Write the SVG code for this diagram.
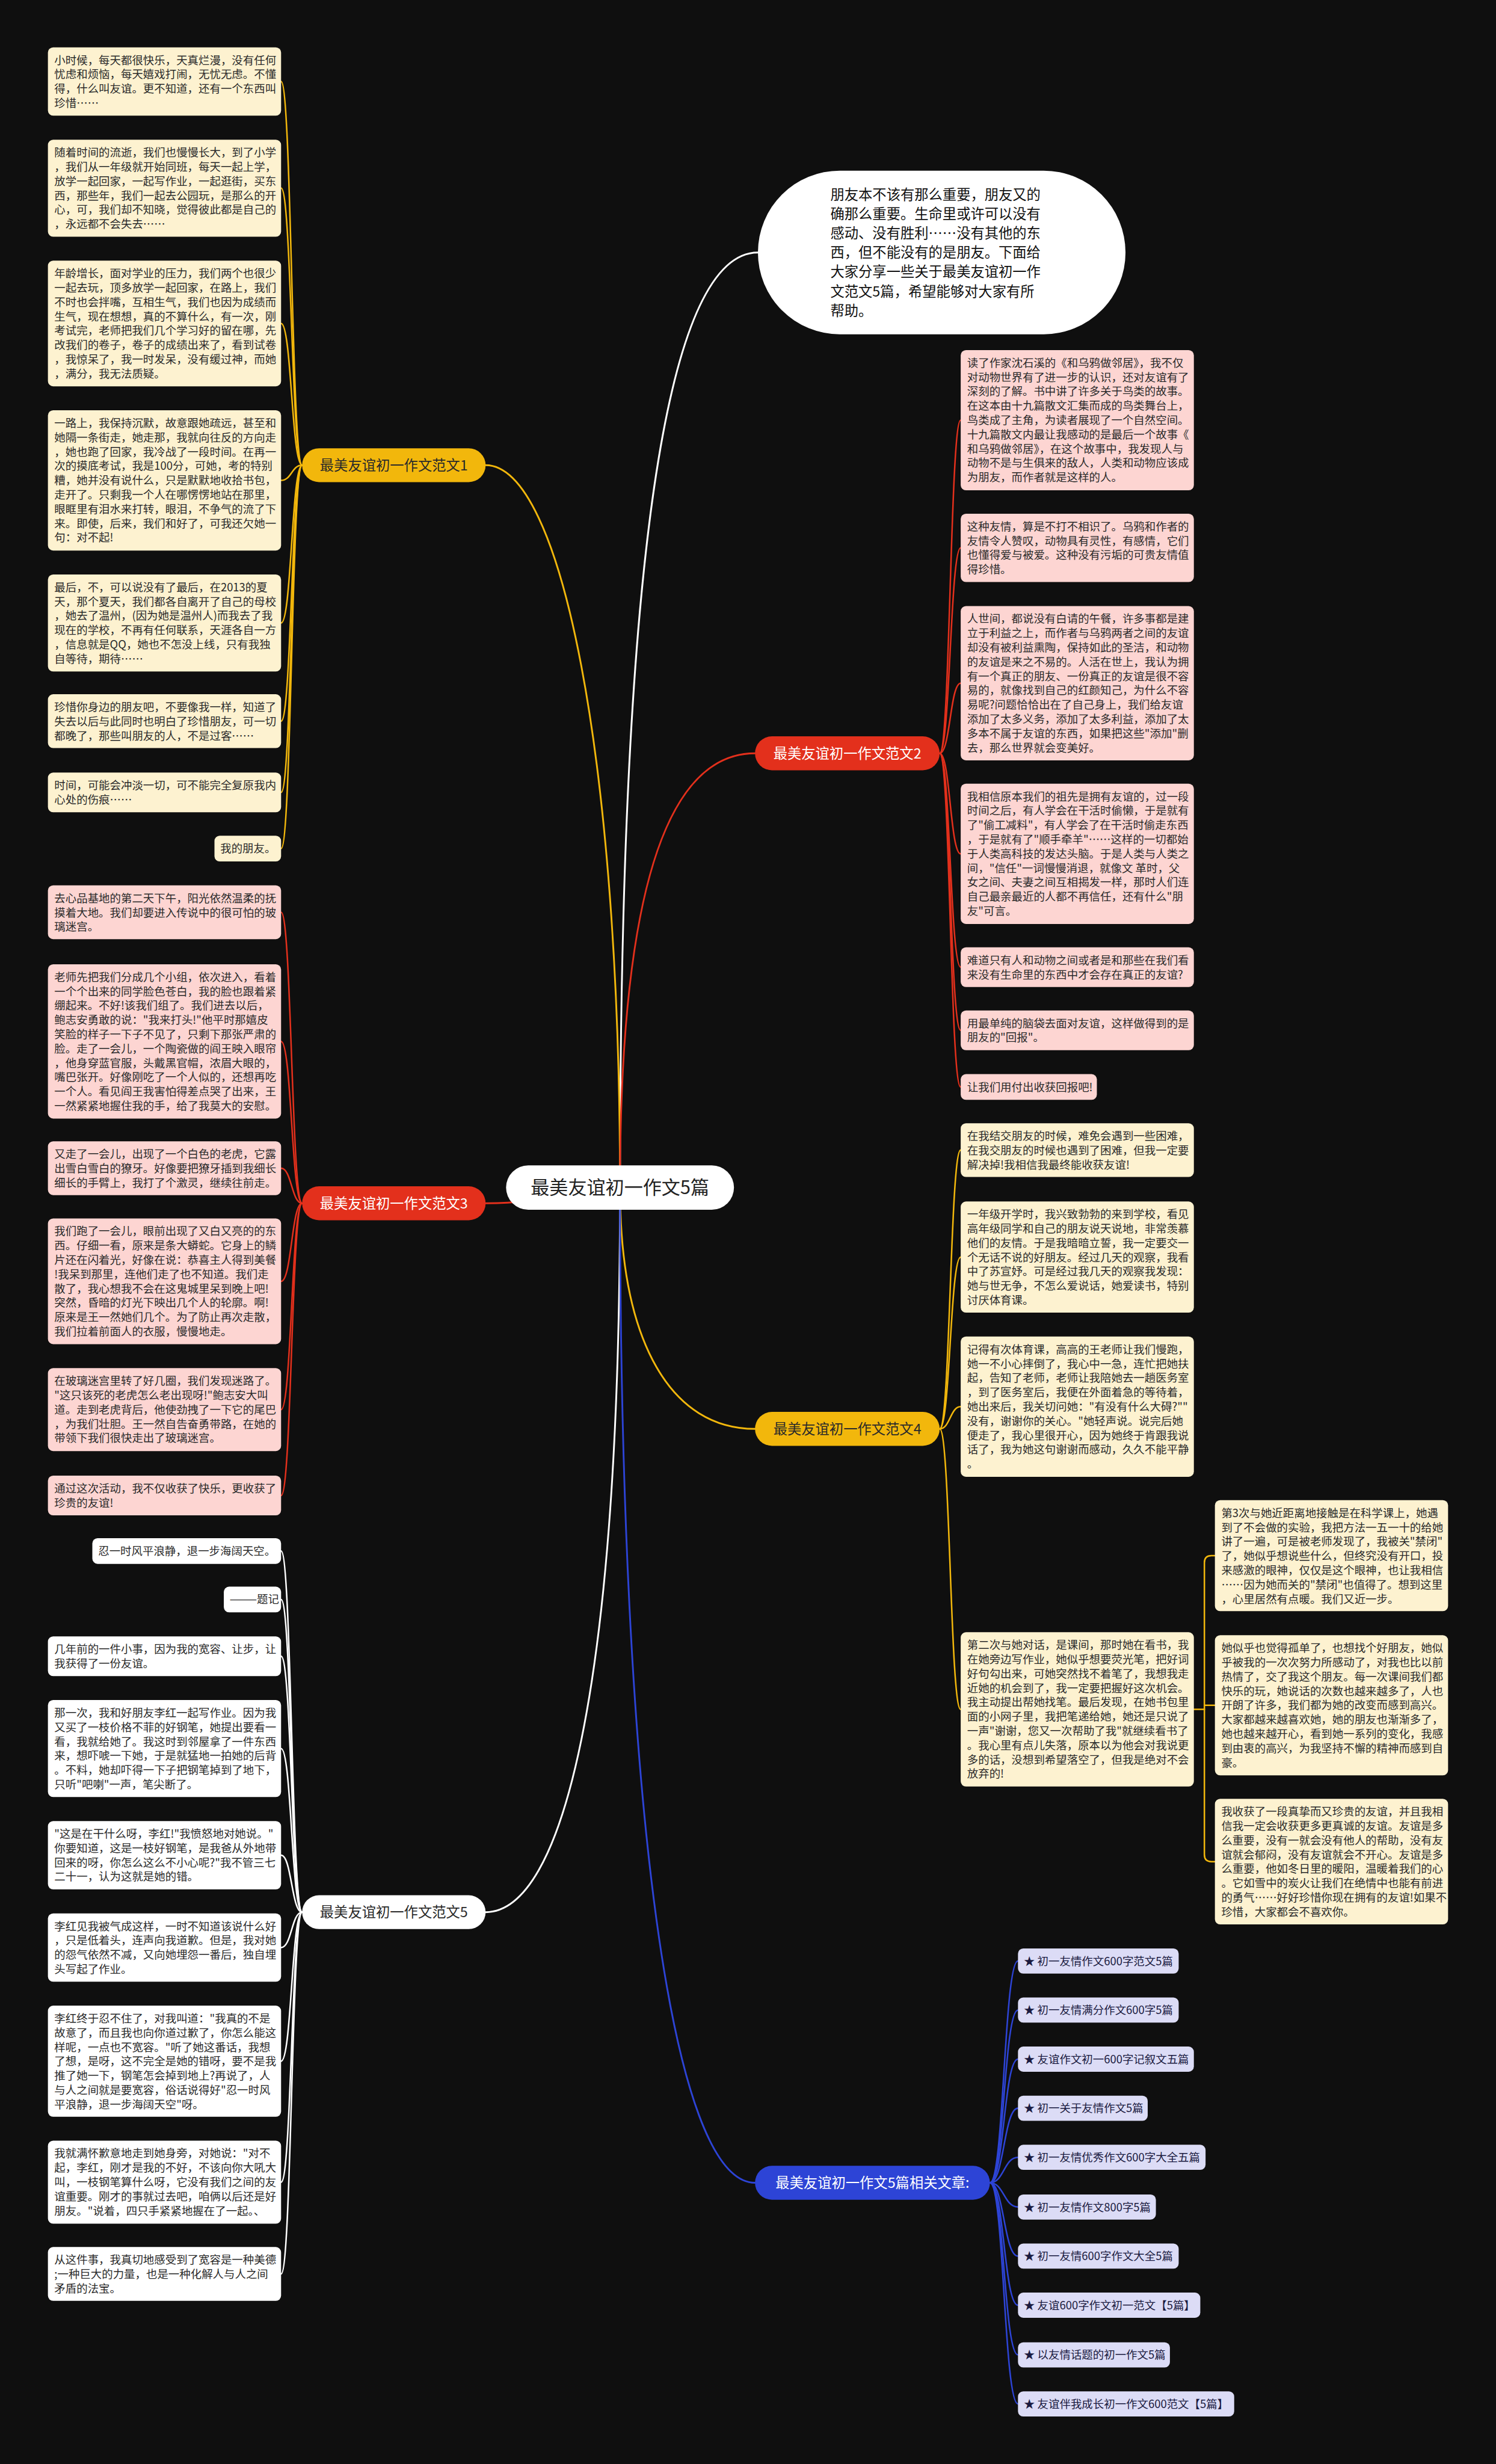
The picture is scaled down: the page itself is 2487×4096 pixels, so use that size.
<svg xmlns="http://www.w3.org/2000/svg" width="2487" height="4096" viewBox="0 0 2487 4096">
<style>
.t{font-family:'Noto Sans CJK SC','Noto Sans',sans-serif;font-size:19px;fill:#2a2a2a}
.lab{font-family:'Noto Sans CJK SC','Noto Sans',sans-serif;font-size:24px;text-anchor:middle}
.cy{fill:#fdf2d0}.cp{fill:#fdd5d2}.cw{fill:#ffffff}.cl{fill:#dcdcf6}
.c{fill:none;stroke-width:2.6;stroke-linecap:round}
.cb{fill:none;stroke-width:3;stroke-linecap:round}
.sy{stroke:#f2b70c}.sr{stroke:#e3301c}.sw{stroke:#ffffff}.sb{stroke:#2d44d6}
.lt{font-family:'Noto Sans CJK SC','Noto Sans',sans-serif;font-size:19px;fill:#1a1a40}
</style>
<rect x="0" y="0" width="2487" height="4096" fill="#0f0f0f"/>
<g transform="scale(0.97148)">
<g id="connectors">
<path class="cb sw" d="M1061,2032 C1061,1100 1120,432 1297,432"/>
<path class="cb sy" d="M1061,2032 C1061,1300 961,796 831,796"/>
<path class="cb sr" d="M1061,2032 C1061,1500 1150,1289 1292,1289"/>
<path class="cb sr" d="M1061,2032 C950,2032 950,2059 831,2059"/>
<path class="cb sy" d="M1061,2032 C1061,2300 1150,2445 1292,2445"/>
<path class="cb sw" d="M1061,2032 C1061,2900 961,3272 831,3272"/>
<path class="cb sb" d="M1061,2032 C1061,3100 1150,3735 1292,3735"/>
<!-- branch 1 -->
<path class="c sy" d="M517,796 C499,796 499,139.5 481,139.5"/>
<path class="c sy" d="M517,796 C499,796 499,322 481,322"/>
<path class="c sy" d="M517,796 C499,796 499,553.5 481,553.5"/>
<path class="c sy" d="M517,796 C499,796 499,822 481,822"/>
<path class="c sy" d="M517,796 C499,796 499,1066 481,1066"/>
<path class="c sy" d="M517,796 C499,796 499,1234 481,1234"/>
<path class="c sy" d="M517,796 C499,796 499,1356 481,1356"/>
<path class="c sy" d="M517,796 C499,796 499,1452 481,1452"/>
<!-- branch 3 -->
<path class="c sr" d="M517,2059 C499,2059 499,1561 481,1561"/>
<path class="c sr" d="M517,2059 C499,2059 499,1782 481,1782"/>
<path class="c sr" d="M517,2059 C499,2059 499,1999 481,1999"/>
<path class="c sr" d="M517,2059 C499,2059 499,2192.5 481,2192.5"/>
<path class="c sr" d="M517,2059 C499,2059 499,2412 481,2412"/>
<path class="c sr" d="M517,2059 C499,2059 499,2559 481,2559"/>
<!-- branch 5 -->
<path class="c sw" d="M517,3272 C499,3272 499,2654 481,2654"/>
<path class="c sw" d="M517,3272 C499,3272 499,2737 481,2737"/>
<path class="c sw" d="M517,3272 C499,3272 499,2834 481,2834"/>
<path class="c sw" d="M517,3272 C499,3272 499,2992 481,2992"/>
<path class="c sw" d="M517,3272 C499,3272 499,3174.5 481,3174.5"/>
<path class="c sw" d="M517,3272 C499,3272 499,3332.5 481,3332.5"/>
<path class="c sw" d="M517,3272 C499,3272 499,3527 481,3527"/>
<path class="c sw" d="M517,3272 C499,3272 499,3734 481,3734"/>
<path class="c sw" d="M517,3272 C499,3272 499,3891 481,3891"/>
<!-- branch 2 -->
<path class="c sr" d="M1608,1289 C1626,1289 1626,719 1644,719"/>
<path class="c sr" d="M1608,1289 C1626,1289 1626,937.5 1644,937.5"/>
<path class="c sr" d="M1608,1289 C1626,1289 1626,1169 1644,1169"/>
<path class="c sr" d="M1608,1289 C1626,1289 1626,1461 1644,1461"/>
<path class="c sr" d="M1608,1289 C1626,1289 1626,1655 1644,1655"/>
<path class="c sr" d="M1608,1289 C1626,1289 1626,1763 1644,1763"/>
<path class="c sr" d="M1608,1289 C1626,1289 1626,1860 1644,1860"/>
<!-- branch 4 -->
<path class="c sy" d="M1608,2445 C1626,2445 1626,1968 1644,1968"/>
<path class="c sy" d="M1608,2445 C1626,2445 1626,2151 1644,2151"/>
<path class="c sy" d="M1608,2445 C1626,2445 1626,2407 1644,2407"/>
<path class="c sy" d="M1608,2445 C1626,2445 1626,2925 1644,2925"/>
<path class="c sy" d="M2043,2925 H2061"/>
<path class="c sy" d="M2079,2662 H2073 Q2061,2662 2061,2674 V3173.5 Q2061,3185.5 2073,3185.5 H2079"/>
<path class="c sy" d="M2061,2918 H2079"/>
<!-- related -->
<path class="c sb" d="M1694,3735 C1718,3735 1718,3355.5 1742,3355.5"/>
<path class="c sb" d="M1694,3735 C1718,3735 1718,3439.5 1742,3439.5"/>
<path class="c sb" d="M1694,3735 C1718,3735 1718,3523.5 1742,3523.5"/>
<path class="c sb" d="M1694,3735 C1718,3735 1718,3607.5 1742,3607.5"/>
<path class="c sb" d="M1694,3735 C1718,3735 1718,3691.5 1742,3691.5"/>
<path class="c sb" d="M1694,3735 C1718,3735 1718,3776.5 1742,3776.5"/>
<path class="c sb" d="M1694,3735 C1718,3735 1718,3860.5 1742,3860.5"/>
<path class="c sb" d="M1694,3735 C1718,3735 1718,3944.5 1742,3944.5"/>
<path class="c sb" d="M1694,3735 C1718,3735 1718,4029.5 1742,4029.5"/>
<path class="c sb" d="M1694,3735 C1718,3735 1718,4113.5 1742,4113.5"/>
</g>

<g id="intro"><rect x="1297" y="292" width="629" height="280" rx="140" fill="#ffffff"/>
<text class="t" style="font-size:24px;fill:#111" x="1421" y="342"><tspan x="1421" dy="0">朋友本不该有那么重要，朋友又的</tspan><tspan x="1421" dy="33">确那么重要。生命里或许可以没有</tspan><tspan x="1421" dy="33">感动、没有胜利……没有其他的东</tspan><tspan x="1421" dy="33">西，但不能没有的是朋友。下面给</tspan><tspan x="1421" dy="33">大家分享一些关于最美友谊初一作</tspan><tspan x="1421" dy="33">文范文5篇，希望能够对大家有所</tspan><tspan x="1421" dy="33">帮助。</tspan></text></g>

<g id="center"><rect x="866" y="1994" width="390" height="76" rx="38" fill="#ffffff"/>
<text class="lab" style="font-size:32px;fill:#222" x="1061" y="2043">最美友谊初一作文5篇</text></g>

<g id="branch1"><rect x="517" y="767" width="314" height="58" rx="29" fill="#f2b70c"/><text class="lab" fill="#2a2a2a" x="674" y="805">最美友谊初一作文范文1</text></g>
<g id="branch2"><rect x="1292" y="1260" width="316" height="58" rx="29" fill="#e3301c"/><text class="lab" fill="#ffffff" x="1450" y="1298">最美友谊初一作文范文2</text></g>
<g id="branch3"><rect x="517" y="2030" width="314" height="58" rx="29" fill="#e3301c"/><text class="lab" fill="#ffffff" x="674" y="2068">最美友谊初一作文范文3</text></g>
<g id="branch4"><rect x="1292" y="2416" width="316" height="58" rx="29" fill="#f2b70c"/><text class="lab" fill="#2a2a2a" x="1450" y="2454">最美友谊初一作文范文4</text></g>
<g id="branch5"><rect x="517" y="3243" width="314" height="58" rx="29" fill="#ffffff"/><text class="lab" fill="#2a2a2a" x="674" y="3281">最美友谊初一作文范文5</text></g>
<g id="branch6"><rect x="1292" y="3706" width="402" height="58" rx="29" fill="#2d44d6"/><text class="lab" fill="#ffffff" x="1493" y="3744">最美友谊初一作文5篇相关文章:</text></g>

<!-- group 1 -->
<g id="g1n1"><rect class="cy" x="82" y="81" width="399" height="117" rx="9"/><text class="t" x="93" y="109.75"><tspan x="93" dy="0">小时候，每天都很快乐，天真烂漫，没有任何</tspan><tspan x="93" dy="24.5">忧虑和烦恼，每天嬉戏打闹，无忧无虑。不懂</tspan><tspan x="93" dy="24.5">得，什么叫友谊。更不知道，还有一个东西叫</tspan><tspan x="93" dy="24.5">珍惜……</tspan></text></g>
<g id="g1n2"><rect class="cy" x="82" y="239" width="399" height="166" rx="9"/><text class="t" x="93" y="267.75"><tspan x="93" dy="0">随着时间的流逝，我们也慢慢长大，到了小学</tspan><tspan x="93" dy="24.5">，我们从一年级就开始同班，每天一起上学，</tspan><tspan x="93" dy="24.5">放学一起回家，一起写作业，一起逛街，买东</tspan><tspan x="93" dy="24.5">西，那些年，我们一起去公园玩，是那么的开</tspan><tspan x="93" dy="24.5">心，可，我们却不知晓，觉得彼此都是自己的</tspan><tspan x="93" dy="24.5">，永远都不会失去……</tspan></text></g>
<g id="g1n3"><rect class="cy" x="82" y="446" width="399" height="215" rx="9"/><text class="t" x="93" y="474.75"><tspan x="93" dy="0">年龄增长，面对学业的压力，我们两个也很少</tspan><tspan x="93" dy="24.5">一起去玩，顶多放学一起回家，在路上，我们</tspan><tspan x="93" dy="24.5">不时也会拌嘴，互相生气，我们也因为成绩而</tspan><tspan x="93" dy="24.5">生气，现在想想，真的不算什么，有一次，刚</tspan><tspan x="93" dy="24.5">考试完，老师把我们几个学习好的留在哪，先</tspan><tspan x="93" dy="24.5">改我们的卷子，卷子的成绩出来了，看到试卷</tspan><tspan x="93" dy="24.5">，我惊呆了，我一时发呆，没有缓过神，而她</tspan><tspan x="93" dy="24.5">，满分，我无法质疑。</tspan></text></g>
<g id="g1n4"><rect class="cy" x="82" y="702" width="399" height="240" rx="9"/><text class="t" x="93" y="730.75"><tspan x="93" dy="0">一路上，我保持沉默，故意跟她疏远，甚至和</tspan><tspan x="93" dy="24.5">她隔一条街走，她走那，我就向往反的方向走</tspan><tspan x="93" dy="24.5">，她也跑了回家，我冷战了一段时间。在再一</tspan><tspan x="93" dy="24.5">次的摸底考试，我是100分，可她，考的特别</tspan><tspan x="93" dy="24.5">糟，她并没有说什么，只是默默地收拾书包，</tspan><tspan x="93" dy="24.5">走开了。只剩我一个人在哪愣愣地站在那里，</tspan><tspan x="93" dy="24.5">眼眶里有泪水来打转，眼泪，不争气的流了下</tspan><tspan x="93" dy="24.5">来。即使，后来，我们和好了，可我还欠她一</tspan><tspan x="93" dy="24.5">句：对不起!</tspan></text></g>
<g id="g1n5"><rect class="cy" x="82" y="983" width="399" height="166" rx="9"/><text class="t" x="93" y="1011.75"><tspan x="93" dy="0">最后，不，可以说没有了最后，在2013的夏</tspan><tspan x="93" dy="24.5">天，那个夏天，我们都各自离开了自己的母校</tspan><tspan x="93" dy="24.5">，她去了温州，(因为她是温州人)而我去了我</tspan><tspan x="93" dy="24.5">现在的学校，不再有任何联系，天涯各自一方</tspan><tspan x="93" dy="24.5">，信息就是QQ，她也不怎没上线，只有我独</tspan><tspan x="93" dy="24.5">自等待，期待……</tspan></text></g>
<g id="g1n6"><rect class="cy" x="82" y="1188" width="399" height="92" rx="9"/><text class="t" x="93" y="1216.75"><tspan x="93" dy="0">珍惜你身边的朋友吧，不要像我一样，知道了</tspan><tspan x="93" dy="24.5">失去以后与此同时也明白了珍惜朋友，可一切</tspan><tspan x="93" dy="24.5">都晚了，那些叫朋友的人，不是过客……</tspan></text></g>
<g id="g1n7"><rect class="cy" x="82" y="1322" width="399" height="68" rx="9"/><text class="t" x="93" y="1350.75"><tspan x="93" dy="0">时间，可能会冲淡一切，可不能完全复原我内</tspan><tspan x="93" dy="24.5">心处的伤痕……</tspan></text></g>
<g id="g1n8"><rect class="cy" x="367" y="1430" width="114" height="44" rx="9"/><text class="t" x="377" y="1458.75">我的朋友。</text></g>

<!-- group 3 -->
<g id="g3n1"><rect class="cp" x="82" y="1515" width="399" height="92" rx="9"/><text class="t" x="93" y="1543.75"><tspan x="93" dy="0">去心品基地的第二天下午，阳光依然温柔的抚</tspan><tspan x="93" dy="24.5">摸着大地。我们却要进入传说中的很可怕的玻</tspan><tspan x="93" dy="24.5">璃迷宫。</tspan></text></g>
<g id="g3n2"><rect class="cp" x="82" y="1650" width="399" height="264" rx="9"/><text class="t" x="93" y="1678.75"><tspan x="93" dy="0">老师先把我们分成几个小组，依次进入，看着</tspan><tspan x="93" dy="24.5">一个个出来的同学脸色苍白，我的脸也跟着紧</tspan><tspan x="93" dy="24.5">绷起来。不好!该我们组了。我们进去以后，</tspan><tspan x="93" dy="24.5">鲍志安勇敢的说："我来打头!"他平时那嬉皮</tspan><tspan x="93" dy="24.5">笑脸的样子一下子不见了，只剩下那张严肃的</tspan><tspan x="93" dy="24.5">脸。走了一会儿，一个陶瓷做的阎王映入眼帘</tspan><tspan x="93" dy="24.5">，他身穿蓝官服，头戴黑官帽，浓眉大眼的，</tspan><tspan x="93" dy="24.5">嘴巴张开。好像刚吃了一个人似的，还想再吃</tspan><tspan x="93" dy="24.5">一个人。看见阎王我害怕得差点哭了出来，王</tspan><tspan x="93" dy="24.5">一然紧紧地握住我的手，给了我莫大的安慰。</tspan></text></g>
<g id="g3n3"><rect class="cp" x="82" y="1953" width="399" height="92" rx="9"/><text class="t" x="93" y="1981.75"><tspan x="93" dy="0">又走了一会儿，出现了一个白色的老虎，它露</tspan><tspan x="93" dy="24.5">出雪白雪白的獠牙。好像要把獠牙插到我细长</tspan><tspan x="93" dy="24.5">细长的手臂上，我打了个激灵，继续往前走。</tspan></text></g>
<g id="g3n4"><rect class="cp" x="82" y="2085" width="399" height="215" rx="9"/><text class="t" x="93" y="2113.75"><tspan x="93" dy="0">我们跑了一会儿，眼前出现了又白又亮的的东</tspan><tspan x="93" dy="24.5">西。仔细一看，原来是条大蟒蛇。它身上的鳞</tspan><tspan x="93" dy="24.5">片还在闪着光，好像在说：恭喜主人得到美餐</tspan><tspan x="93" dy="24.5">!我呆到那里，连他们走了也不知道。我们走</tspan><tspan x="93" dy="24.5">散了，我心想我不会在这鬼城里呆到晚上吧!</tspan><tspan x="93" dy="24.5">突然，昏暗的灯光下映出几个人的轮廓。啊!</tspan><tspan x="93" dy="24.5">原来是王一然她们几个。为了防止再次走散，</tspan><tspan x="93" dy="24.5">我们拉着前面人的衣服，慢慢地走。</tspan></text></g>
<g id="g3n5"><rect class="cp" x="82" y="2341" width="399" height="142" rx="9"/><text class="t" x="93" y="2369.75"><tspan x="93" dy="0">在玻璃迷宫里转了好几圈，我们发现迷路了。</tspan><tspan x="93" dy="24.5">"这只该死的老虎怎么老出现呀!"鲍志安大叫</tspan><tspan x="93" dy="24.5">道。走到老虎背后，他使劲拽了一下它的尾巴</tspan><tspan x="93" dy="24.5">，为我们壮胆。王一然自告奋勇带路，在她的</tspan><tspan x="93" dy="24.5">带领下我们很快走出了玻璃迷宫。</tspan></text></g>
<g id="g3n6"><rect class="cp" x="82" y="2525" width="399" height="68" rx="9"/><text class="t" x="93" y="2553.75"><tspan x="93" dy="0">通过这次活动，我不仅收获了快乐，更收获了</tspan><tspan x="93" dy="24.5">珍贵的友谊!</tspan></text></g>

<!-- group 5 -->
<g id="g5n1"><rect class="cw" x="158" y="2632" width="323" height="44" rx="9"/><text class="t" x="168" y="2660.75">忍一时风平浪静，退一步海阔天空。</text></g>
<g id="g5n2"><rect class="cw" x="383" y="2715" width="98" height="44" rx="9"/><text class="t" x="393" y="2743.75">———题记</text></g>
<g id="g5n3"><rect class="cw" x="82" y="2800" width="399" height="68" rx="9"/><text class="t" x="93" y="2828.75"><tspan x="93" dy="0">几年前的一件小事，因为我的宽容、让步，让</tspan><tspan x="93" dy="24.5">我获得了一份友谊。</tspan></text></g>
<g id="g5n4"><rect class="cw" x="82" y="2909" width="399" height="166" rx="9"/><text class="t" x="93" y="2937.75"><tspan x="93" dy="0">那一次，我和好朋友李红一起写作业。因为我</tspan><tspan x="93" dy="24.5">又买了一枝价格不菲的好钢笔，她提出要看一</tspan><tspan x="93" dy="24.5">看，我就给她了。我这时到邻屋拿了一件东西</tspan><tspan x="93" dy="24.5">来，想吓唬一下她，于是就猛地一拍她的后背</tspan><tspan x="93" dy="24.5">。不料，她却吓得一下子把钢笔掉到了地下，</tspan><tspan x="93" dy="24.5">只听"吧喇"一声，笔尖断了。</tspan></text></g>
<g id="g5n5"><rect class="cw" x="82" y="3116" width="399" height="117" rx="9"/><text class="t" x="93" y="3144.75"><tspan x="93" dy="0">"这是在干什么呀，李红!"我愤怒地对她说。"</tspan><tspan x="93" dy="24.5">你要知道，这是一枝好钢笔，是我爸从外地带</tspan><tspan x="93" dy="24.5">回来的呀，你怎么这么不小心呢?"我不管三七</tspan><tspan x="93" dy="24.5">二十一，认为这就是她的错。</tspan></text></g>
<g id="g5n6"><rect class="cw" x="82" y="3274" width="399" height="117" rx="9"/><text class="t" x="93" y="3302.75"><tspan x="93" dy="0">李红见我被气成这样，一时不知道该说什么好</tspan><tspan x="93" dy="24.5">，只是低着头，连声向我道歉。但是，我对她</tspan><tspan x="93" dy="24.5">的怨气依然不减，又向她埋怨一番后，独自埋</tspan><tspan x="93" dy="24.5">头写起了作业。</tspan></text></g>
<g id="g5n7"><rect class="cw" x="82" y="3432" width="399" height="190" rx="9"/><text class="t" x="93" y="3460.75"><tspan x="93" dy="0">李红终于忍不住了，对我叫道："我真的不是</tspan><tspan x="93" dy="24.5">故意了，而且我也向你道过歉了，你怎么能这</tspan><tspan x="93" dy="24.5">样呢，一点也不宽容。"听了她这番话，我想</tspan><tspan x="93" dy="24.5">了想，是呀，这不完全是她的错呀，要不是我</tspan><tspan x="93" dy="24.5">推了她一下，钢笔怎会掉到地上?再说了，人</tspan><tspan x="93" dy="24.5">与人之间就是要宽容，俗话说得好"忍一时风</tspan><tspan x="93" dy="24.5">平浪静，退一步海阔天空"呀。</tspan></text></g>
<g id="g5n8"><rect class="cw" x="82" y="3663" width="399" height="142" rx="9"/><text class="t" x="93" y="3691.75"><tspan x="93" dy="0">我就满怀歉意地走到她身旁，对她说："对不</tspan><tspan x="93" dy="24.5">起，李红，刚才是我的不好，不该向你大吼大</tspan><tspan x="93" dy="24.5">叫，一枝钢笔算什么呀，它没有我们之间的友</tspan><tspan x="93" dy="24.5">谊重要。刚才的事就过去吧，咱俩以后还是好</tspan><tspan x="93" dy="24.5">朋友。"说着，四只手紧紧地握在了一起。、</tspan></text></g>
<g id="g5n9"><rect class="cw" x="82" y="3845" width="399" height="92" rx="9"/><text class="t" x="93" y="3873.75"><tspan x="93" dy="0">从这件事，我真切地感受到了宽容是一种美德</tspan><tspan x="93" dy="24.5">;一种巨大的力量，也是一种化解人与人之间</tspan><tspan x="93" dy="24.5">矛盾的法宝。</tspan></text></g>

<!-- group 2 -->
<g id="g2n1"><rect class="cp" x="1644" y="599" width="399" height="240" rx="9"/><text class="t" x="1655" y="627.75"><tspan x="1655" dy="0">读了作家沈石溪的《和乌鸦做邻居》，我不仅</tspan><tspan x="1655" dy="24.5">对动物世界有了进一步的认识，还对友谊有了</tspan><tspan x="1655" dy="24.5">深刻的了解。书中讲了许多关于鸟类的故事。</tspan><tspan x="1655" dy="24.5">在这本由十九篇散文汇集而成的鸟类舞台上，</tspan><tspan x="1655" dy="24.5">鸟类成了主角，为读者展现了一个自然空间。</tspan><tspan x="1655" dy="24.5">十九篇散文内最让我感动的是最后一个故事《</tspan><tspan x="1655" dy="24.5">和乌鸦做邻居》，在这个故事中，我发现人与</tspan><tspan x="1655" dy="24.5">动物不是与生俱来的敌人，人类和动物应该成</tspan><tspan x="1655" dy="24.5">为朋友，而作者就是这样的人。</tspan></text></g>
<g id="g2n2"><rect class="cp" x="1644" y="879" width="399" height="117" rx="9"/><text class="t" x="1655" y="907.75"><tspan x="1655" dy="0">这种友情，算是不打不相识了。乌鸦和作者的</tspan><tspan x="1655" dy="24.5">友情令人赞叹，动物具有灵性，有感情，它们</tspan><tspan x="1655" dy="24.5">也懂得爱与被爱。这种没有污垢的可贵友情值</tspan><tspan x="1655" dy="24.5">得珍惜。</tspan></text></g>
<g id="g2n3"><rect class="cp" x="1644" y="1037" width="399" height="264" rx="9"/><text class="t" x="1655" y="1065.75"><tspan x="1655" dy="0">人世间，都说没有白请的午餐，许多事都是建</tspan><tspan x="1655" dy="24.5">立于利益之上，而作者与乌鸦两者之间的友谊</tspan><tspan x="1655" dy="24.5">却没有被利益熏陶，保持如此的圣洁，和动物</tspan><tspan x="1655" dy="24.5">的友谊是来之不易的。人活在世上，我认为拥</tspan><tspan x="1655" dy="24.5">有一个真正的朋友、一份真正的友谊是很不容</tspan><tspan x="1655" dy="24.5">易的，就像找到自己的红颜知己，为什么不容</tspan><tspan x="1655" dy="24.5">易呢?问题恰恰出在了自己身上，我们给友谊</tspan><tspan x="1655" dy="24.5">添加了太多义务，添加了太多利益，添加了太</tspan><tspan x="1655" dy="24.5">多本不属于友谊的东西，如果把这些"添加"删</tspan><tspan x="1655" dy="24.5">去，那么世界就会变美好。</tspan></text></g>
<g id="g2n4"><rect class="cp" x="1644" y="1341" width="399" height="240" rx="9"/><text class="t" x="1655" y="1369.75"><tspan x="1655" dy="0">我相信原本我们的祖先是拥有友谊的，过一段</tspan><tspan x="1655" dy="24.5">时间之后，有人学会在干活时偷懒，于是就有</tspan><tspan x="1655" dy="24.5">了"偷工减料"，有人学会了在干活时偷走东西</tspan><tspan x="1655" dy="24.5">，于是就有了"顺手牵羊"……这样的一切都始</tspan><tspan x="1655" dy="24.5">于人类高科技的发达头脑。于是人类与人类之</tspan><tspan x="1655" dy="24.5">间，"信任"一词慢慢消退，就像文 革时，父</tspan><tspan x="1655" dy="24.5">女之间、夫妻之间互相揭发一样，那时人们连</tspan><tspan x="1655" dy="24.5">自己最亲最近的人都不再信任，还有什么"朋</tspan><tspan x="1655" dy="24.5">友"可言。</tspan></text></g>
<g id="g2n5"><rect class="cp" x="1644" y="1621" width="399" height="68" rx="9"/><text class="t" x="1655" y="1649.75"><tspan x="1655" dy="0">难道只有人和动物之间或者是和那些在我们看</tspan><tspan x="1655" dy="24.5">来没有生命里的东西中才会存在真正的友谊?</tspan></text></g>
<g id="g2n6"><rect class="cp" x="1644" y="1729" width="399" height="68" rx="9"/><text class="t" x="1655" y="1757.75"><tspan x="1655" dy="0">用最单纯的脑袋去面对友谊，这样做得到的是</tspan><tspan x="1655" dy="24.5">朋友的"回报"。</tspan></text></g>
<g id="g2n7"><rect class="cp" x="1644" y="1838" width="233" height="44" rx="9"/><text class="t" x="1655" y="1866.75">让我们用付出收获回报吧!</text></g>

<!-- group 4 -->
<g id="g4n1"><rect class="cy" x="1644" y="1922" width="399" height="92" rx="9"/><text class="t" x="1655" y="1950.75"><tspan x="1655" dy="0">在我结交朋友的时候，难免会遇到一些困难，</tspan><tspan x="1655" dy="24.5">在我交朋友的时候也遇到了困难，但我一定要</tspan><tspan x="1655" dy="24.5">解决掉!我相信我最终能收获友谊!</tspan></text></g>
<g id="g4n2"><rect class="cy" x="1644" y="2056" width="399" height="190" rx="9"/><text class="t" x="1655" y="2084.75"><tspan x="1655" dy="0">一年级开学时，我兴致勃勃的来到学校，看见</tspan><tspan x="1655" dy="24.5">高年级同学和自己的朋友说天说地，非常羡慕</tspan><tspan x="1655" dy="24.5">他们的友情。于是我暗暗立誓，我一定要交一</tspan><tspan x="1655" dy="24.5">个无话不说的好朋友。经过几天的观察，我看</tspan><tspan x="1655" dy="24.5">中了苏宣妤。可是经过我几天的观察我发现：</tspan><tspan x="1655" dy="24.5">她与世无争，不怎么爱说话，她爱读书，特别</tspan><tspan x="1655" dy="24.5">讨厌体育课。</tspan></text></g>
<g id="g4n3"><rect class="cy" x="1644" y="2287" width="399" height="240" rx="9"/><text class="t" x="1655" y="2315.75"><tspan x="1655" dy="0">记得有次体育课，高高的王老师让我们慢跑，</tspan><tspan x="1655" dy="24.5">她一不小心摔倒了，我心中一急，连忙把她扶</tspan><tspan x="1655" dy="24.5">起，告知了老师，老师让我陪她去一趟医务室</tspan><tspan x="1655" dy="24.5">，到了医务室后，我便在外面着急的等待着，</tspan><tspan x="1655" dy="24.5">她出来后，我关切问她："有没有什么大碍?""</tspan><tspan x="1655" dy="24.5">没有，谢谢你的关心。"她轻声说。说完后她</tspan><tspan x="1655" dy="24.5">便走了，我心里很开心，因为她终于肯跟我说</tspan><tspan x="1655" dy="24.5">话了，我为她这句谢谢而感动，久久不能平静</tspan><tspan x="1655" dy="24.5">。</tspan></text></g>
<g id="g4n4"><rect class="cy" x="1644" y="2793" width="399" height="264" rx="9"/><text class="t" x="1655" y="2821.75"><tspan x="1655" dy="0">第二次与她对话，是课间，那时她在看书，我</tspan><tspan x="1655" dy="24.5">在她旁边写作业，她似乎想要荧光笔，把好词</tspan><tspan x="1655" dy="24.5">好句勾出来，可她突然找不着笔了，我想我走</tspan><tspan x="1655" dy="24.5">近她的机会到了，我一定要把握好这次机会。</tspan><tspan x="1655" dy="24.5">我主动提出帮她找笔。最后发现，在她书包里</tspan><tspan x="1655" dy="24.5">面的小网子里，我把笔递给她，她还是只说了</tspan><tspan x="1655" dy="24.5">一声"谢谢，您又一次帮助了我"就继续看书了</tspan><tspan x="1655" dy="24.5">。我心里有点儿失落，原本以为他会对我说更</tspan><tspan x="1655" dy="24.5">多的话，没想到希望落空了，但我是绝对不会</tspan><tspan x="1655" dy="24.5">放弃的!</tspan></text></g>
<g id="g4n4a"><rect class="cy" x="2079" y="2567" width="399" height="190" rx="9"/><text class="t" x="2090" y="2595.75"><tspan x="2090" dy="0">第3次与她近距离地接触是在科学课上，她遇</tspan><tspan x="2090" dy="24.5">到了不会做的实验，我把方法一五一十的给她</tspan><tspan x="2090" dy="24.5">讲了一遍，可是被老师发现了，我被关"禁闭"</tspan><tspan x="2090" dy="24.5">了，她似乎想说些什么，但终究没有开口，投</tspan><tspan x="2090" dy="24.5">来感激的眼神，仅仅是这个眼神，也让我相信</tspan><tspan x="2090" dy="24.5">……因为她而关的"禁闭"也值得了。想到这里</tspan><tspan x="2090" dy="24.5">，心里居然有点暖。我们又近一步。</tspan></text></g>
<g id="g4n4b"><rect class="cy" x="2079" y="2798" width="399" height="240" rx="9"/><text class="t" x="2090" y="2826.75"><tspan x="2090" dy="0">她似乎也觉得孤单了，也想找个好朋友，她似</tspan><tspan x="2090" dy="24.5">乎被我的一次次努力所感动了，对我也比以前</tspan><tspan x="2090" dy="24.5">热情了，交了我这个朋友。每一次课间我们都</tspan><tspan x="2090" dy="24.5">快乐的玩，她说话的次数也越来越多了，人也</tspan><tspan x="2090" dy="24.5">开朗了许多，我们都为她的改变而感到高兴。</tspan><tspan x="2090" dy="24.5">大家都越来越喜欢她，她的朋友也渐渐多了，</tspan><tspan x="2090" dy="24.5">她也越来越开心，看到她一系列的变化，我感</tspan><tspan x="2090" dy="24.5">到由衷的高兴，为我坚持不懈的精神而感到自</tspan><tspan x="2090" dy="24.5">豪。</tspan></text></g>
<g id="g4n4c"><rect class="cy" x="2079" y="3078" width="399" height="215" rx="9"/><text class="t" x="2090" y="3106.75"><tspan x="2090" dy="0">我收获了一段真挚而又珍贵的友谊，并且我相</tspan><tspan x="2090" dy="24.5">信我一定会收获更多更真诚的友谊。友谊是多</tspan><tspan x="2090" dy="24.5">么重要，没有一就会没有他人的帮助，没有友</tspan><tspan x="2090" dy="24.5">谊就会郁闷，没有友谊就会不开心。友谊是多</tspan><tspan x="2090" dy="24.5">么重要，他如冬日里的暖阳，温暖着我们的心</tspan><tspan x="2090" dy="24.5">。它如雪中的炭火让我们在绝情中也能有前进</tspan><tspan x="2090" dy="24.5">的勇气……好好珍惜你现在拥有的友谊!如果不</tspan><tspan x="2090" dy="24.5">珍惜，大家都会不喜欢你。</tspan></text></g>

<!-- related links -->
<g id="l1"><rect class="cl" x="1742" y="3334" width="275" height="43" rx="9"/><text class="lt" x="1752" y="3362.5">★ 初一友情作文600字范文5篇</text></g>
<g id="l2"><rect class="cl" x="1742" y="3418" width="275" height="43" rx="9"/><text class="lt" x="1752" y="3446.5">★ 初一友情满分作文600字5篇</text></g>
<g id="l3"><rect class="cl" x="1742" y="3502" width="301" height="43" rx="9"/><text class="lt" x="1752" y="3530.5">★ 友谊作文初一600字记叙文五篇</text></g>
<g id="l4"><rect class="cl" x="1742" y="3586" width="222" height="43" rx="9"/><text class="lt" x="1752" y="3614.5">★ 初一关于友情作文5篇</text></g>
<g id="l5"><rect class="cl" x="1742" y="3670" width="321" height="43" rx="9"/><text class="lt" x="1752" y="3698.5">★ 初一友情优秀作文600字大全五篇</text></g>
<g id="l6"><rect class="cl" x="1742" y="3755" width="236" height="43" rx="9"/><text class="lt" x="1752" y="3783.5">★ 初一友情作文800字5篇</text></g>
<g id="l7"><rect class="cl" x="1742" y="3839" width="275" height="43" rx="9"/><text class="lt" x="1752" y="3867.5">★ 初一友情600字作文大全5篇</text></g>
<g id="l8"><rect class="cl" x="1742" y="3923" width="312" height="43" rx="9"/><text class="lt" x="1752" y="3951.5">★ 友谊600字作文初一范文【5篇】</text></g>
<g id="l9"><rect class="cl" x="1742" y="4008" width="260" height="43" rx="9"/><text class="lt" x="1752" y="4036.5">★ 以友情话题的初一作文5篇</text></g>
<g id="l10"><rect class="cl" x="1742" y="4092" width="370" height="43" rx="9"/><text class="lt" x="1752" y="4120.5">★ 友谊伴我成长初一作文600范文【5篇】</text></g>
</g>
</svg>
